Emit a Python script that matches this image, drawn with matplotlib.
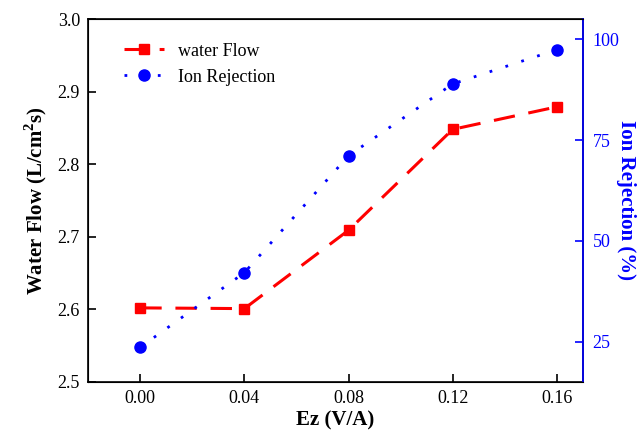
import matplotlib.pyplot as plt

ez = [0.00, 0.04, 0.08, 0.12, 0.16]
water_flow = [2.602, 2.601, 2.709, 2.848, 2.879]
ion_rejection = [23.6, 42.1, 71.1, 88.9, 97.4]

plt.rcParams["font.family"] = ["Liberation Serif", "DejaVu Serif"]
plt.rcParams["mathtext.fontset"] = "custom"
plt.rcParams["mathtext.rm"] = "Liberation Serif"
plt.rcParams["mathtext.bf"] = "Liberation Serif:bold"

fig, ax = plt.subplots(figsize=(6.44, 4.33), dpi=100)
fig.subplots_adjust(left=0.137, right=0.905, top=0.956, bottom=0.118)

l1, = ax.plot(ez, water_flow, color="red", linestyle=(0, (7, 4.5)), linewidth=2.2,
              marker="s", markersize=7, label="water Flow")
ax.set_xlim(-0.02, 0.17)
ax.set_ylim(2.5, 3.0)
ax.set_xticks(ez)
ax.set_xticklabels(["%.2f" % v for v in ez])
ax.set_yticks([2.5, 2.6, 2.7, 2.8, 2.9, 3.0])
ax.tick_params(direction="in", labelsize=13, length=6, width=1.2, pad=6)
ax.set_xlabel("Ez (V/A)", fontsize=15, fontweight="bold", labelpad=2)
ax.set_ylabel(r"Water Flow (L/cm$^\mathbf{2}$s)", fontsize=15, fontweight="bold", labelpad=6)
for s in ax.spines.values():
    s.set_linewidth(1.2)

ax2 = ax.twinx()
l2, = ax2.plot(ez, ion_rejection, color="blue", linestyle=(0, (1, 5)), linewidth=2,
               marker="o", markersize=8, label="Ion Rejection")
ax2.set_ylim(15, 105)
ax2.set_yticks([25, 50, 75, 100])
ax2.tick_params(direction="in", labelsize=13, length=6, width=1.2, colors="blue", pad=7)
ax2.spines["right"].set_color("blue")
ax2.spines["right"].set_linewidth(1.2)
ax2.set_ylabel("Ion Rejection (%)", fontsize=15, fontweight="bold", color="blue",
               rotation=270, labelpad=12)

ax.legend([l1, l2], ["water Flow", "Ion Rejection"], loc="upper left", frameon=False,
          fontsize=13, bbox_to_anchor=(0.04, 0.98), handlelength=2.2)

plt.savefig("out.png", dpi=100)
